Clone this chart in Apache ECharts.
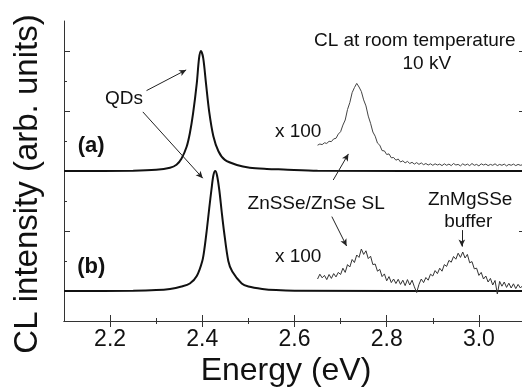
<!DOCTYPE html>
<html>
<head>
<meta charset="utf-8">
<script src="https://cdn.jsdelivr.net/npm/echarts@6/dist/echarts.min.js"></script>
<style>
html, body { margin: 0; padding: 0; background: #fff; }
#chart { width: 522px; height: 389px; }
</style>
</head>
<body>
<div id="chart"></div>
<script>
// 刻度
const majorTicksX = [2.2, 2.4, 2.6, 2.8, 3.0]
const minorTicksX = [2.3, 2.5, 2.7, 2.9]
const majorTicksY = [1, 3, 5, 7, 9]
const minorTicksY = [2, 4, 6, 8]

// (a) QD 峰
const peakAEnergy = [2.10, 2.25, 2.30, 2.33, 2.344, 2.355, 2.366, 2.373, 2.38, 2.388, 2.393, 2.397, 2.402, 2.408, 2.415, 2.424, 2.435, 2.449, 2.475, 2.503, 2.54, 2.576, 2.65, 3.10]
const peakAIntensity = [5.0, 5.01, 5.04, 5.11, 5.21, 5.42, 5.81, 6.26, 6.92, 7.92, 8.76, 9.0, 8.76, 7.92, 6.97, 6.16, 5.66, 5.37, 5.2, 5.11, 5.07, 5.05, 5.01, 5.0]

// (b) QD 峰
const peakBEnergy = [2.10, 2.25, 2.30, 2.33, 2.355, 2.373, 2.388, 2.40, 2.405, 2.4095, 2.415, 2.42, 2.424, 2.428, 2.432, 2.437, 2.442, 2.447, 2.4564, 2.465, 2.4855, 2.50, 2.53, 2.56, 2.60, 3.10]
const peakBIntensity = [1.0, 1.01, 1.03, 1.07, 1.15, 1.25, 1.5, 2.0, 2.45, 3.0, 3.75, 4.4, 4.85, 5.0, 4.85, 4.35, 3.65, 3.0, 2.0, 1.65, 1.25, 1.15, 1.07, 1.03, 1.01, 1.0]

// x100 放大部分, 2.650 起每 0.005 eV 一个点
const x100Start = 2.65
const x100Step = 0.005
const x100A = [
  5.86, 5.90, 5.88, 5.94, 5.92, 5.99, 5.98, 6.07, 6.09, 6.23,
  6.31, 6.53, 6.70, 7.05, 7.28, 7.61, 7.78, 7.92, 7.80, 7.65,
  7.37, 7.17, 6.83, 6.59, 6.30, 6.16, 5.93, 5.86, 5.68, 5.67,
  5.55, 5.57, 5.44, 5.45, 5.36, 5.40, 5.30, 5.34, 5.27, 5.32,
  5.25, 5.29, 5.23, 5.28, 5.22, 5.27, 5.21, 5.25, 5.20, 5.24,
  5.19, 5.24, 5.20, 5.23, 5.18, 5.24, 5.19, 5.23, 5.18, 5.25,
  5.20, 5.22, 5.17, 5.24, 5.19, 5.23, 5.18, 5.25, 5.19, 5.22,
  5.17, 5.24, 5.20, 5.23, 5.18, 5.22, 5.19, 5.24, 5.18, 5.22,
  5.19, 5.23, 5.17, 5.22, 5.19, 5.23, 5.18, 5.22, 5.19, 5.21
]
const x100B = [
  1.40, 1.56, 1.44, 1.52, 1.38, 1.55, 1.42, 1.58, 1.47, 1.62,
  1.55, 1.76, 1.62, 1.88, 1.80, 2.05, 1.95, 2.20, 2.12, 2.40,
  2.22, 2.34, 2.08, 2.16, 1.88, 1.90, 1.66, 1.72, 1.48, 1.57,
  1.34, 1.48, 1.28, 1.40, 1.25, 1.39, 1.22, 1.36, 1.18, 1.38,
  1.20, 1.36, 1.14, 0.95, 1.22, 1.40, 1.28, 1.45, 1.36, 1.56,
  1.50, 1.68, 1.58, 1.76, 1.66, 1.88, 1.82, 2.02, 1.96, 2.15,
  2.06, 2.26, 2.12, 2.30, 2.10, 2.22, 1.94, 1.98, 1.74, 1.76,
  1.52, 1.62, 1.40, 1.50, 1.30, 1.42, 1.20, 1.35, 0.90, 1.32,
  1.16, 1.30, 1.12, 1.26, 1.10, 1.24, 1.08, 1.22, 1.10, 1.18
]

const font = 'Liberation Sans, Arial, sans-serif'
const ink = '#111'

const pairs = (xs, ys) => xs.map((x, i) => [x, ys[i]])
const x100Pairs = (ys) => ys.map((v, i) => [+(x100Start + i * x100Step).toFixed(3), v])

//坐标轴
const xAxisOf = (position, ticks, len, main) => ({
  type: 'value', position, min: 2.1, max: 3.1,
  axisLine: { show: main, lineStyle: { color: '#333', width: 1 } },
  axisTick: { show: true, inside: true, length: len, customValues: ticks, lineStyle: { color: '#333' } },
  axisLabel: main && position === 'bottom'
    ? { show: true, customValues: majorTicksX, formatter: (v) => v.toFixed(1), fontSize: 23, color: ink, fontFamily: font, margin: 7 }
    : { show: false },
  splitLine: { show: false }
})
const yAxisOf = (position, ticks, len, main) => ({
  type: 'value', position, min: 0, max: 10,
  axisLine: { show: main, lineStyle: { color: '#333', width: 1 } },
  axisTick: { show: true, inside: true, length: len, customValues: ticks, lineStyle: { color: '#333' } },
  axisLabel: { show: false },
  splitLine: { show: false }
})

const note = (text, coord, bold, size) => ({
  coord,
  label: { show: true, position: 'inside', formatter: text, color: ink, fontFamily: font, fontSize: size || 19, fontWeight: bold ? 'bold' : 'normal' }
})
const arrow = (from, to) => [{ coord: from }, { coord: to }]

const chart = echarts.init(document.getElementById('chart'))
const option = {
  animation: false,
  backgroundColor: '#fff',
  grid: { left: 64, top: 21, right: -3, bottom: 68, outerBoundsMode: 'none', containLabel: false },
  xAxis: [
    xAxisOf('bottom', majorTicksX, 6, true),
    xAxisOf('bottom', minorTicksX, 3, false),
    xAxisOf('top', majorTicksX, 6, true),
    xAxisOf('top', minorTicksX, 3, false)
  ],
  yAxis: [
    yAxisOf('left', majorTicksY, 6, true),
    yAxisOf('left', minorTicksY, 3, false),
    yAxisOf('right', majorTicksY, 6, true),
    yAxisOf('right', minorTicksY, 3, false)
  ],
  graphic: [
    { type: 'text', x: 28, y: 184, rotation: Math.PI / 2,
      style: { text: 'CL intensity (arb. units)', fontSize: 33, fontFamily: font, fill: ink, align: 'center', verticalAlign: 'middle' } },
    { type: 'text', x: 286, y: 371,
      style: { text: 'Energy (eV)', fontSize: 32, fontFamily: font, fill: ink, align: 'center', verticalAlign: 'middle' } }
  ],
  series: [
    {
      name: 'a', type: 'line', showSymbol: false, smooth: 0.3,
      data: pairs(peakAEnergy, peakAIntensity),
      lineStyle: { color: ink, width: 2 },
      markPoint: {
        symbol: 'circle', symbolSize: 0, silent: true,
        itemStyle: { color: 'transparent' },
        data: [
          note('QDs', [2.23, 7.4]),
          note('(a)', [2.159, 5.84], true, 22),
          note('(b)', [2.159, 1.81], true, 22),
          note('x 100', [2.608, 6.31]),
          note('x 100', [2.608, 2.14]),
          note('CL at room temperature', [2.861, 9.34]),
          note('10 kV', [2.887, 8.59]),
          note('ZnSSe/ZnSe SL', [2.647, 3.92]),
          note('ZnMgSSe', [2.981, 4.03]),
          note('buffer', [2.977, 3.31])
        ]
      },
      markLine: {
        silent: true, symbol: ['none', 'arrow'], symbolSize: [5, 7],
        label: { show: false },
        lineStyle: { color: '#222', width: 1, type: 'solid' },
        data: [
          arrow([2.279, 7.68], [2.365, 8.37]),
          arrow([2.271, 6.97], [2.401, 4.76]),
          arrow([2.684, 4.70], [2.717, 5.57]),
          arrow([2.681, 3.48], [2.713, 2.50]),
          arrow([2.963, 3.03], [2.963, 2.48])
        ]
      }
    },
    {
      name: 'b', type: 'line', showSymbol: false, smooth: 0.3,
      data: pairs(peakBEnergy, peakBIntensity),
      lineStyle: { color: ink, width: 2 }
    },
    {
      name: 'a x100', type: 'line', showSymbol: false,
      data: x100Pairs(x100A),
      lineStyle: { color: '#444', width: 1 }
    },
    {
      name: 'b x100', type: 'line', showSymbol: false,
      data: x100Pairs(x100B),
      lineStyle: { color: '#333', width: 1 }
    }
  ]
}
option && chart.setOption(option)
</script>
</body>
</html>
